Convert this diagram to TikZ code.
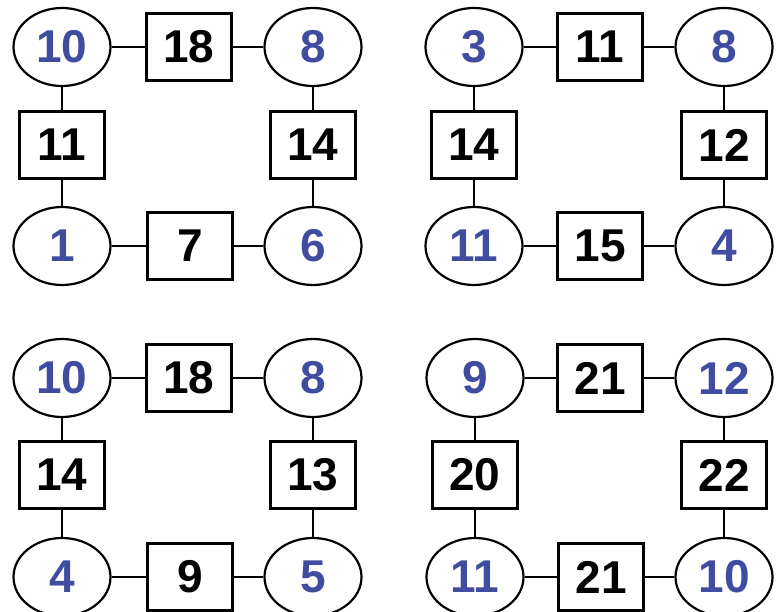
\documentclass[tikz,border=0pt]{standalone}
\usepackage{fontspec}
\setmainfont{Liberation Sans}
\usetikzlibrary{shapes.geometric}
\definecolor{numblue}{RGB}{63,76,160}
\tikzset{
  oval/.style={ellipse, draw=black, line width=2.2pt, minimum width=97pt, minimum height=78pt, inner sep=0pt, text=numblue, font=\fontsize{46}{46}\selectfont\bfseries},
  sq/.style={rectangle, draw=black, line width=2.2pt, minimum width=85pt, minimum height=67pt, inner sep=0pt, text=black, font=\fontsize{46}{46}\selectfont\bfseries},
  link/.style={draw=black, line width=2.2pt}
}
\begin{document}
\begin{tikzpicture}[x=1pt,y=-1pt]
\useasboundingbox (0,0) rectangle (776,612);
% panel 1
\node[oval] (a1) at (62,47) {10};
\node[sq]   (a2) at (189,47) {18};
\node[oval] (a3) at (313,47) {8};
\node[sq]   (a4) at (62,145) {11};
\node[sq]   (a5) at (313,145) {14};
\node[oval] (a6) at (62,246) {1};
\node[sq]   (a7) at (190,246) {7};
\node[oval] (a8) at (313,246) {6};
\draw[link] (a1) -- (a2); \draw[link] (a2) -- (a3);
\draw[link] (a1) -- (a4); \draw[link] (a4) -- (a6);
\draw[link] (a3) -- (a5); \draw[link] (a5) -- (a8);
\draw[link] (a6) -- (a7); \draw[link] (a7) -- (a8);
% panel 2
\node[oval] (b1) at (474,47) {3};
\node[sq]   (b2) at (600,47) {11};
\node[oval] (b3) at (724,47) {8};
\node[sq]   (b4) at (474,145) {14};
\node[sq]   (b5) at (724,145) {12};
\node[oval] (b6) at (474,246) {11};
\node[sq]   (b7) at (600,246) {15};
\node[oval] (b8) at (724,246) {4};
\draw[link] (b1) -- (b2); \draw[link] (b2) -- (b3);
\draw[link] (b1) -- (b4); \draw[link] (b4) -- (b6);
\draw[link] (b3) -- (b5); \draw[link] (b5) -- (b8);
\draw[link] (b6) -- (b7); \draw[link] (b7) -- (b8);
% panel 3
\node[oval] (c1) at (62,378) {10};
\node[sq]   (c2) at (189,378) {18};
\node[oval] (c3) at (313,378) {8};
\node[sq]   (c4) at (62,475) {14};
\node[sq]   (c5) at (313,475) {13};
\node[oval] (c6) at (62,577) {4};
\node[sq]   (c7) at (190,577) {9};
\node[oval] (c8) at (313,577) {5};
\draw[link] (c1) -- (c2); \draw[link] (c2) -- (c3);
\draw[link] (c1) -- (c4); \draw[link] (c4) -- (c6);
\draw[link] (c3) -- (c5); \draw[link] (c5) -- (c8);
\draw[link] (c6) -- (c7); \draw[link] (c7) -- (c8);
% panel 4
\node[oval] (d1) at (475,378) {9};
\node[sq]   (d2) at (600,378) {21};
\node[oval] (d3) at (724,378) {12};
\node[sq]   (d4) at (475,475) {20};
\node[sq]   (d5) at (724,475) {22};
\node[oval] (d6) at (475,577) {11};
\node[sq]   (d7) at (601,577) {21};
\node[oval] (d8) at (724,577) {10};
\draw[link] (d1) -- (d2); \draw[link] (d2) -- (d3);
\draw[link] (d1) -- (d4); \draw[link] (d4) -- (d6);
\draw[link] (d3) -- (d5); \draw[link] (d5) -- (d8);
\draw[link] (d6) -- (d7); \draw[link] (d7) -- (d8);
\end{tikzpicture}
\end{document}
